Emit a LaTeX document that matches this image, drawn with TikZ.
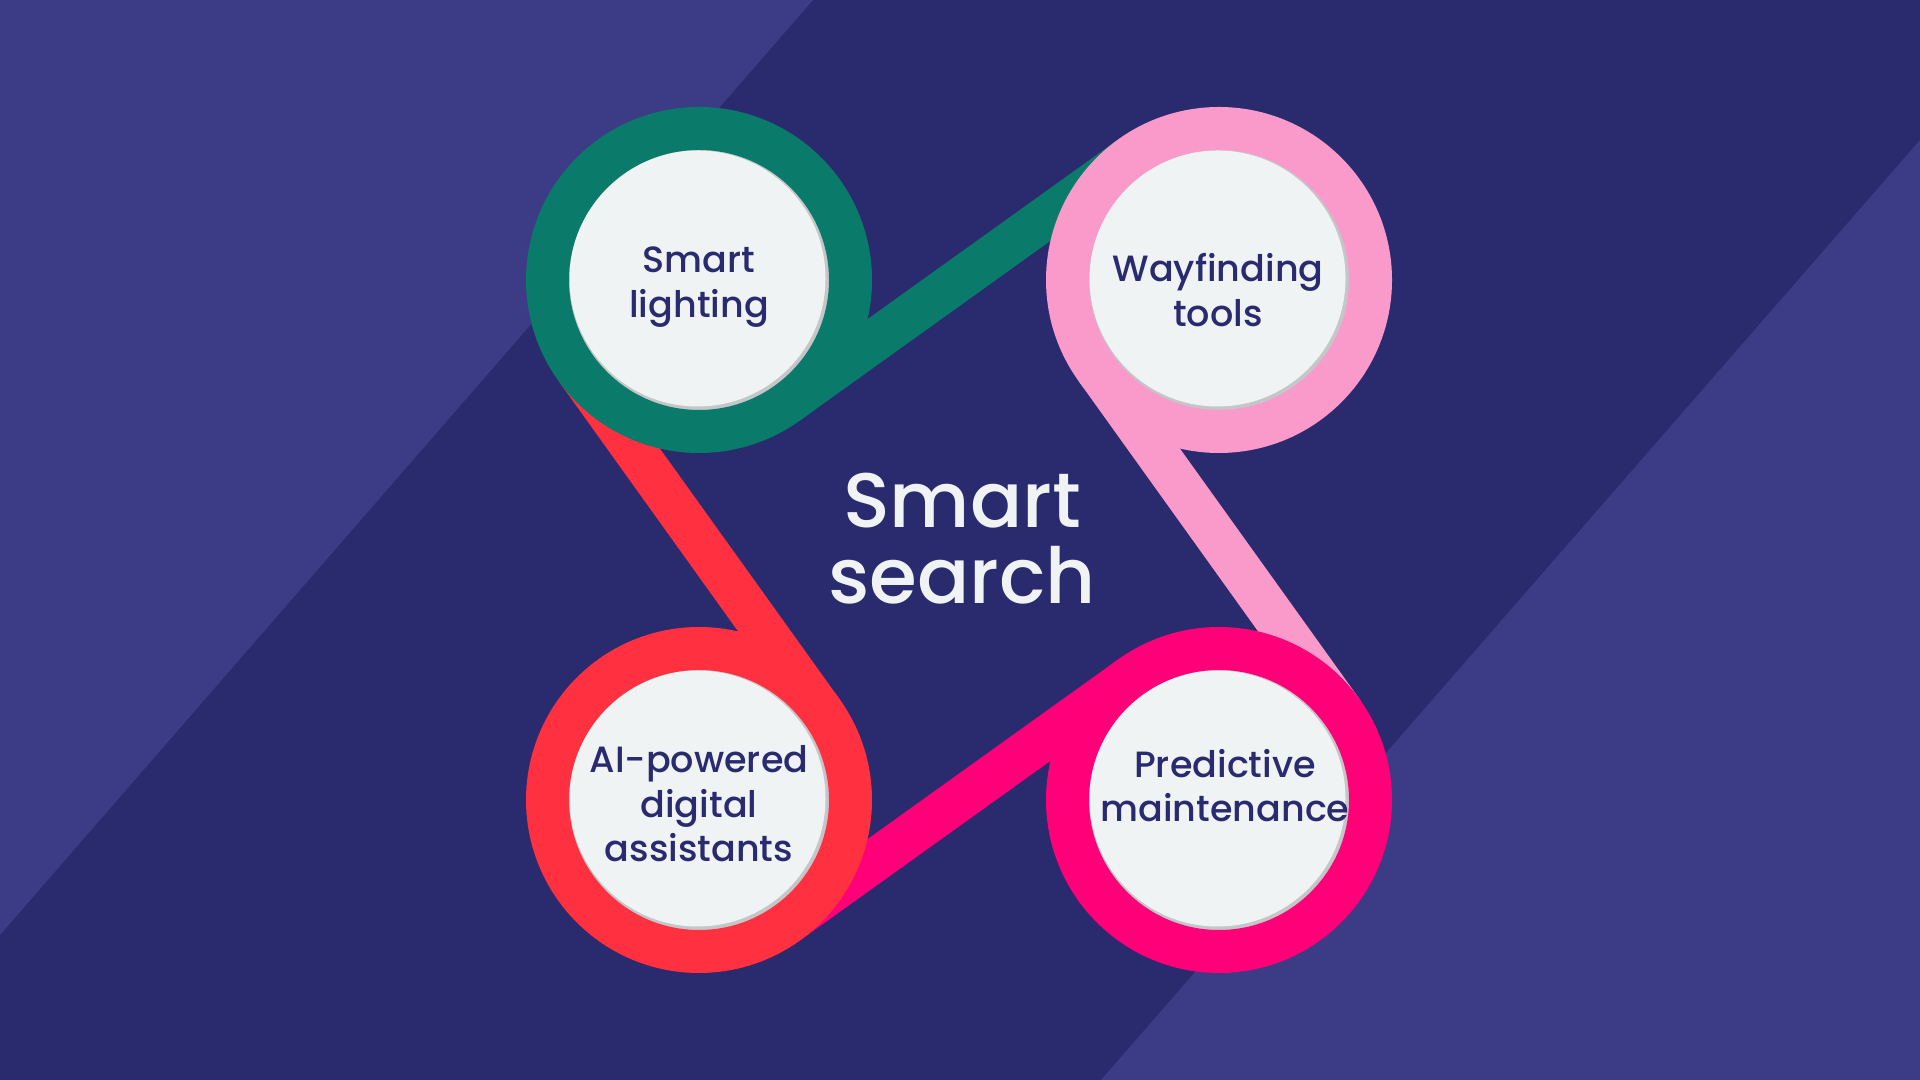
\documentclass[tikz,border=0pt]{standalone}
\usepackage{fontspec}
\setmainfont{Poppins}[UprightFont=* Medium]
\usetikzlibrary{positioning}

\definecolor{bgnavy}{HTML}{2A2A6E}
\definecolor{stripe}{HTML}{3B3B86}
\definecolor{ringgreen}{HTML}{0A7A6A}
\definecolor{ringpink}{HTML}{F99ACB}
\definecolor{ringmagenta}{HTML}{FF0078}
\definecolor{ringred}{HTML}{FF3040}
\definecolor{discwhite}{HTML}{F0F3F4}
\definecolor{discshade}{HTML}{C5C6C8}
\definecolor{textnavy}{HTML}{2A2A6E}

\pgfdeclarelayer{back}
\pgfdeclarelayer{bands}
\pgfsetlayers{back,bands,main}

\begin{document}
\begin{tikzpicture}[node distance=2.17cm]
\tikzstyle{ring}=[circle, line width=0.43cm, minimum size=3.03cm, inner sep=0pt, outer sep=0pt, fill=discshade, path picture={\fill[discwhite] ([shift={(-0.015,0.015)}]path picture bounding box.center) circle (1.28cm);}]
\tikzstyle{band}=[line width=0.43cm]
\tikzstyle{caption}=[anchor=base, align=center, text=textnavy, font=\fontsize{10.4}{12.8}\selectfont]

% background with the two light stripes
\begin{pgfonlayer}{back}
\fill[bgnavy] (0,0) rectangle (19.2,10.8);
\fill[stripe] (0,10.8) -- (8.13,10.8) -- (0,1.45) -- cycle;
\fill[stripe] (19.2,9.40) -- (19.2,0) -- (11.01,0) -- cycle;
\end{pgfonlayer}
\useasboundingbox (0,0) rectangle (19.2,10.8);

% rings
\node[ring, draw=ringgreen] (light) at (6.99,8.0) {};
\node[ring, draw=ringpink, right=of light] (way) {};
\node[ring, draw=ringred, below=of light] (ai) {};
\node[ring, draw=ringmagenta, right=of ai] (pred) {};

% tails, each one runs into the next ring
\begin{pgfonlayer}{bands}
\draw[band, ringgreen] (light.-54.36) -- (way.125.64);
\draw[band, ringpink] (way.-144.36) -- (pred.35.64);
\draw[band, ringmagenta] (pred.125.64) -- (ai.-54.36);
\draw[band, ringred] (ai.35.64) -- (light.-144.36);
\end{pgfonlayer}

% labels (base = last line)
\node[caption] (lighttext) at ([yshift=-0.38cm]light.center) {Smart\\lighting};
\node[caption] (waytext) at ([shift={(-0.01,-0.47)}]way.center) {Wayfinding\\tools};
\node[caption] (aitext) at ([yshift=-0.62cm]ai.center) {AI-powered\\digital\\assistants};
\node[caption] (predtext) at ([shift={(0.06,-0.22)}]pred.center) {Predictive\\maintenance};
\node[anchor=base, align=center, text=discwhite, font=\fontsize{22}{21.9}\selectfont] (hub) at (9.62,4.76) {Smart\\search};
\end{tikzpicture}
\end{document}
